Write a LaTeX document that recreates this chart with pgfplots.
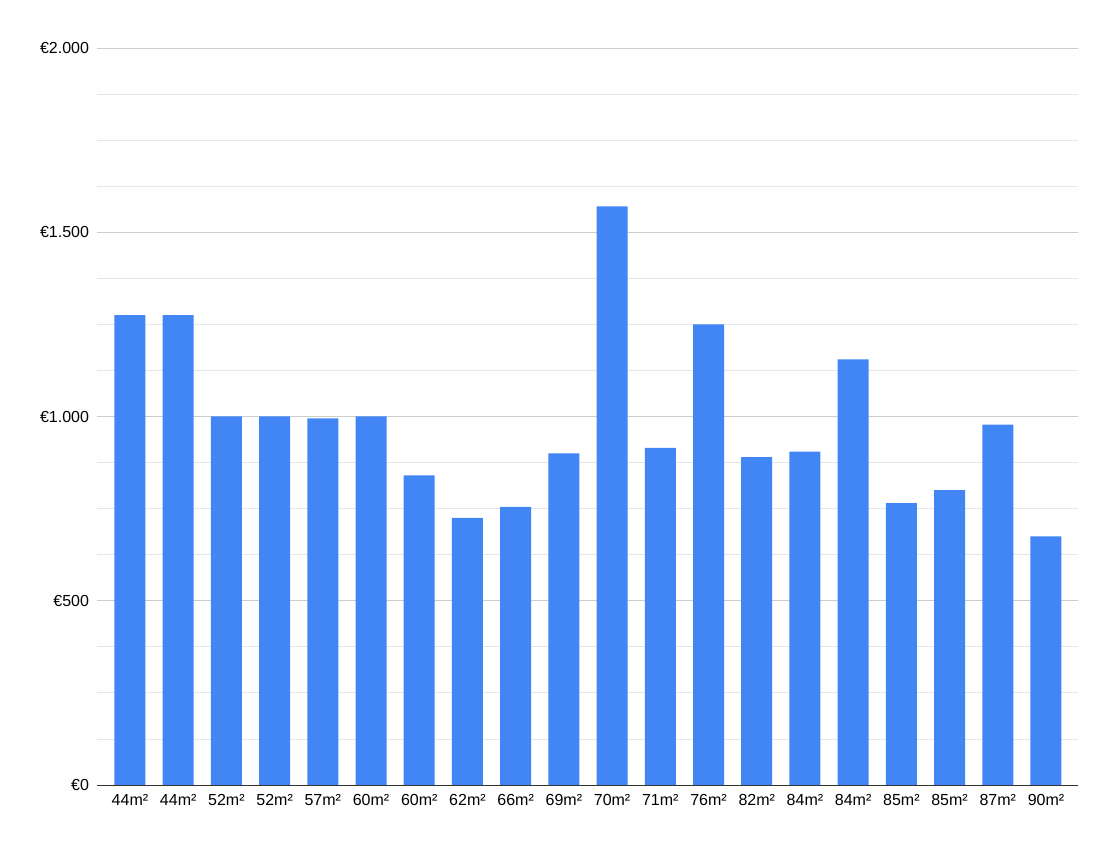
\documentclass[border=0pt]{standalone}
\usepackage{fontspec}
\setmainfont{Liberation Sans}
\usepackage{pgfplots}
\pgfplotsset{compat=1.18}
\definecolor{barblue}{HTML}{4285F4}
\definecolor{majgrid}{HTML}{CCCCCC}
\definecolor{mingrid}{HTML}{E6E6E6}
\definecolor{axisdark}{HTML}{333333}
\begin{document}
\begin{tikzpicture}
\useasboundingbox (-97bp,-64bp) rectangle (1018bp,785bp);
\begin{axis}[
  at={(0,0)}, anchor=south west,
  scale only axis,
  width=981bp, height=737bp,
  xmin=-0.684, xmax=19.664,
  ymin=0, ymax=2000,
  axis line style={draw=none},
  ybar, bar width=31bp,
  xtick={0,...,19},
  xticklabels={44m²,44m²,52m²,52m²,57m²,60m²,60m²,62m²,66m²,69m²,70m²,71m²,76m²,82m²,84m²,84m²,85m²,85m²,87m²,90m²},
  ytick={0,500,1000,1500,2000},
  yticklabels={€0,€500,€1.000,€1.500,€2.000},
  minor ytick={125,250,375,625,750,875,1125,1250,1375,1625,1750,1875},
  ymajorgrids, yminorgrids,
  major grid style={majgrid, line width=0.8bp},
  minor grid style={mingrid, line width=0.8bp},
  major tick length=0pt, minor tick length=0pt,
  tick style={draw=none},
  ticklabel style={font=\fontsize{16bp}{19bp}\selectfont, text=black},
  yticklabel style={xshift=-4.5bp},
  xticklabel style={yshift=-5.5bp},
  clip=false,
  axis on top=false,
]
\addplot[fill=barblue, draw=none] coordinates {
(0,1275) (1,1275) (2,1000) (3,1000) (4,995) (5,1000) (6,840) (7,725) (8,755) (9,900)
(10,1570) (11,915) (12,1250) (13,890) (14,905) (15,1155) (16,765) (17,800) (18,978) (19,675)
};
\draw[axisdark, line width=1bp] (axis cs:-0.684,0) -- (axis cs:19.664,0);
\end{axis}
\end{tikzpicture}
\end{document}
